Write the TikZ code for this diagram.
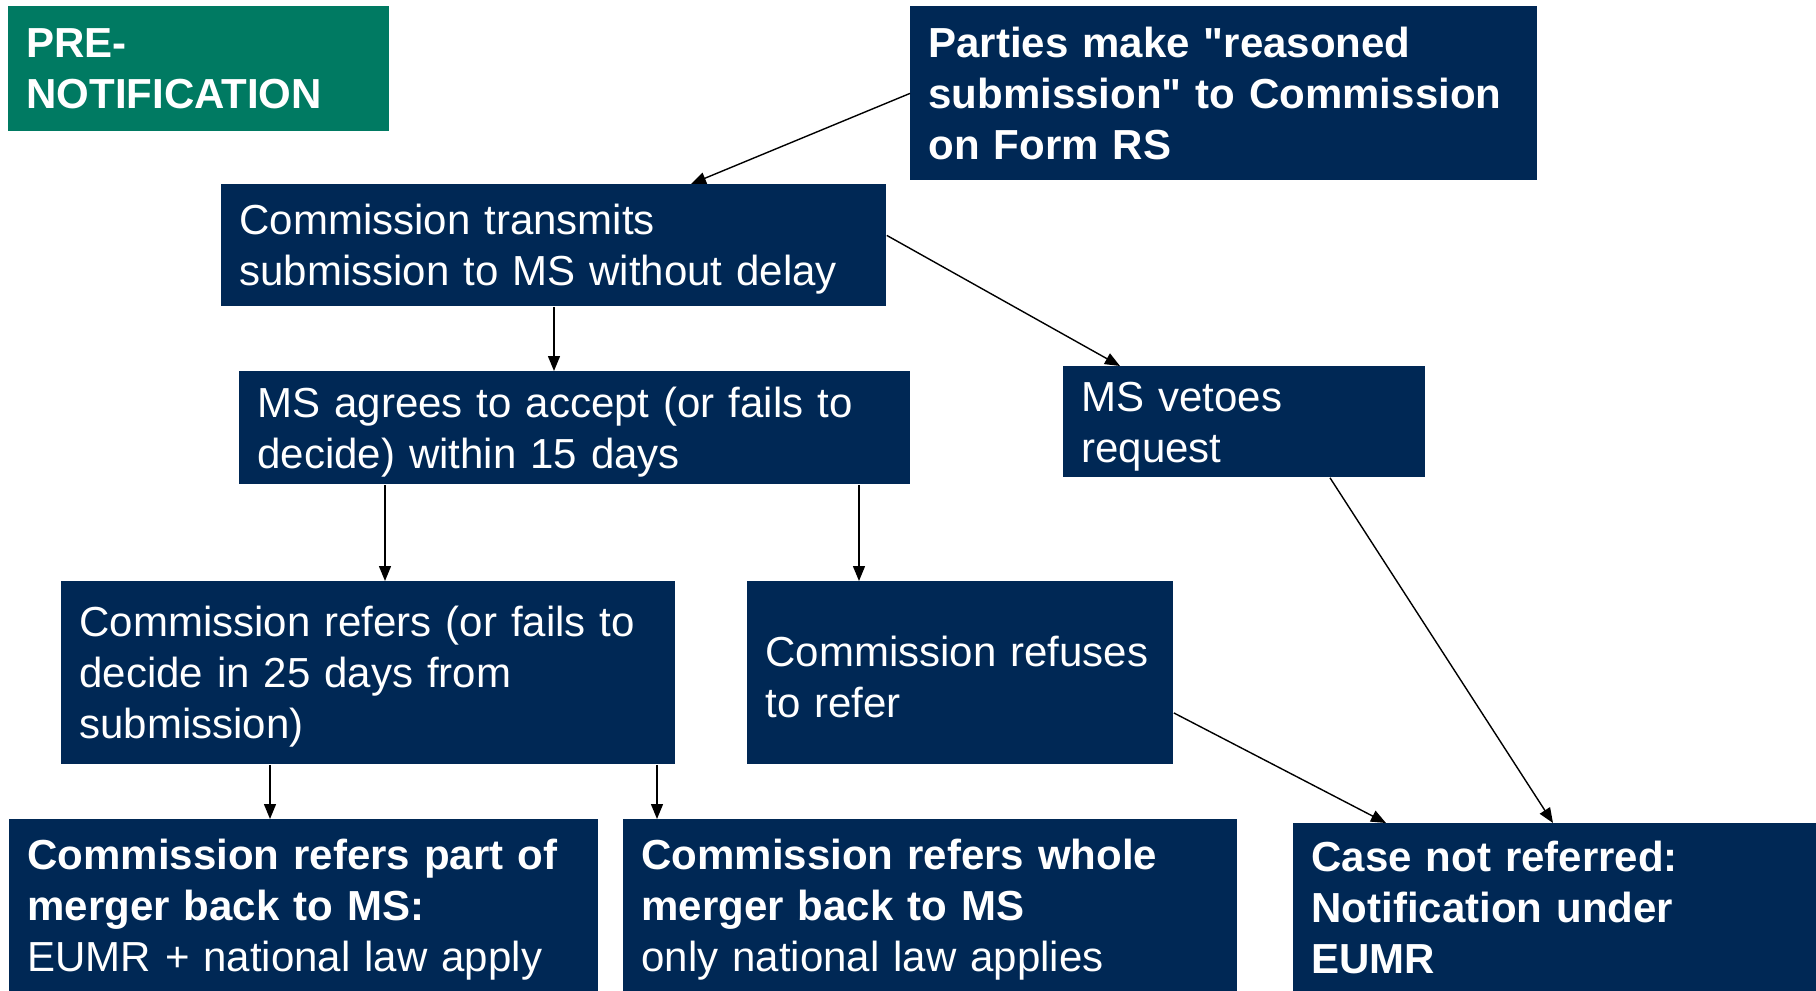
\documentclass[tikz,border=0pt]{standalone}
\usepackage{fontspec}
\setmainfont{Liberation Sans}[Ligatures=TeXOff]
\usetikzlibrary{arrows.meta}

\definecolor{navy}{RGB}{0,40,85}
\definecolor{teal}{RGB}{0,122,98}

\begin{document}
\begin{tikzpicture}[x=.5pt,y=-.5pt,
    font=\fontsize{21}{25.5}\selectfont,
    headbox/.style={rectangle,fill=navy,text=white,anchor=north west,
        align=left,inner xsep=9pt,inner ysep=2pt},
    box/.style={headbox,execute at begin node={\rule{0pt}{19pt}}},
    arr/.style={line width=.7pt,-{Triangle[length=7.5pt,width=6pt]}}]
    \useasboundingbox (0,0) rectangle (1816,991);

    %% top row
    \node (pre) at (8,6) [headbox,fill=teal,text width=172.5pt,minimum height=62.5pt]
        {\textbf{PRE-}\\\textbf{NOTIFICATION}};
    \node (rs) at (910,6) [headbox,text width=295.5pt,minimum height=87pt]
        {\textbf{Parties make "reasoned}\\\textbf{submission" to Commission}\\\textbf{on Form RS}};

    %% member state stage
    \node (transmit) at (221,184) [box,text width=314.5pt,minimum height=61pt]
        {Commission transmits\\submission to MS without delay};
    \node (accept) at (239,371) [box,text width=317.5pt,minimum height=56.5pt]
        {MS agrees to accept (or fails to\\decide) within 15 days};
    \node (veto) at (1063,366) [box,text width=163pt,minimum height=55.5pt]
        {MS vetoes\\request};

    %% commission decision
    \node (refer) at (61,581) [box,text width=289pt,minimum height=91.5pt]
        {Commission refers (or fails to\\decide in 25 days from\\submission)};
    \node (refuse) at (747,581) [box,text width=195pt,minimum height=91.5pt]
        {Commission refuses\\to refer};

    %% outcomes
    \node (part) at (9,819) [box,text width=276.5pt,minimum height=86pt]
        {\textbf{Commission refers part of}\\\textbf{merger back to MS:}\\EUMR + national law apply};
    \node (whole) at (623,819) [box,text width=289pt,minimum height=86pt]
        {\textbf{Commission refers whole}\\\textbf{merger back to MS}\\only national law applies};
    \node (eumr) at (1293,823) [headbox,text width=243.5pt,minimum height=84pt]
        {\textbf{Case not referred:}\\\textbf{Notification under}\\\textbf{EUMR}};

    %% arrows
    \draw[arr] (rs.west) -- ([xshift=235pt]transmit.north west);
    \draw[arr] ([xshift=166.5pt]transmit.south west) -- ([xshift=157.5pt]accept.north west);
    \draw[arr] ([yshift=5pt]transmit.east) -- ([xshift=28.5pt]veto.north west);
    \draw[arr] ([xshift=73pt]accept.south west) -- ([xshift=162pt]refer.north west);
    \draw[arr] ([xshift=310pt]accept.south west) -- ([xshift=56pt]refuse.north west);
    \draw[arr] ([xshift=104.5pt]refer.south west) -- ([xshift=130.5pt]part.north west);
    \draw[arr] ([xshift=298pt]refer.south west) -- ([xshift=17pt]whole.north west);
    \draw[arr] ([yshift=-20pt]refuse.east) -- ([xshift=46.5pt]eumr.north west);
    \draw[arr] ([xshift=133.5pt]veto.south west) -- ([xshift=130pt]eumr.north west);
\end{tikzpicture}
\end{document}
